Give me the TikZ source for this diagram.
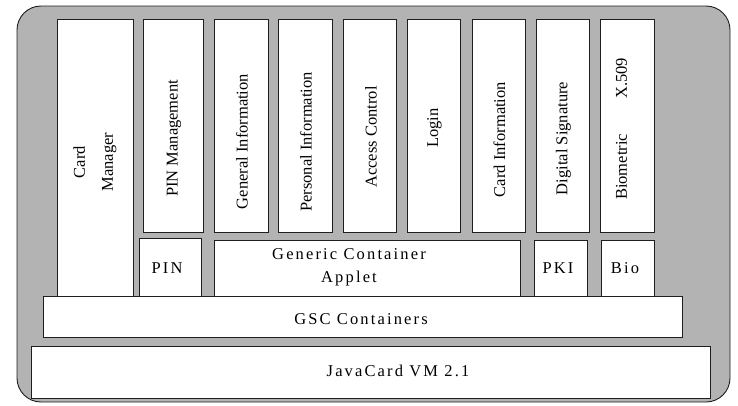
\documentclass[tikz,border=0pt]{standalone}
\usepackage{fontspec}
\setmainfont{Liberation Serif}
\newfontfamily\spacedfont[LetterSpace=13]{Liberation Serif}
\usetikzlibrary{fit}
\definecolor{Panel}{HTML}{B3B3B3}
\definecolor{Edge}{HTML}{1E1E1E}
\definecolor{Plain}{HTML}{FFFFFF}
\tikzset{
    panel/.style={rectangle, rounded corners=24pt, fill=Panel, draw=Edge, line width=0.9pt, inner sep=0pt},
    layer/.style={rectangle, fill=Plain, draw=Edge, line width=0.9pt, inner sep=0pt},
    vtext/.style={rotate=90, inner sep=0pt, align=center, font=\fontsize{16.5}{28}\selectfont},
    htext/.style={inner sep=0pt, align=center, font=\spacedfont\fontsize{16.5}{23}\selectfont},
}

\begin{document}
\begin{tikzpicture}[x=1pt, y=-1pt]
        \useasboundingbox (0,0) rectangle (738,405);
        % Card
        \node[panel, fit={(17,6) (730,402)}] (card) {};

        % Applets
        \node[layer, fit={(57,19) (133,296)}] (cardmgr) {};
        \node[layer, fit={(143,19) (203,232)}] (pinmgmt) {};
        \node[layer, fit={(214,19) (268,232)}] (geninfo) {};
        \node[layer, fit={(278,19) (332,232)}] (persinfo) {};
        \node[layer, fit={(343,19) (396,232)}] (access) {};
        \node[layer, fit={(407,19) (460,232)}] (login) {};
        \node[layer, fit={(472,19) (525,232)}] (cardinfo) {};
        \node[layer, fit={(536,19) (589,232)}] (digsig) {};
        \node[layer, fit={(600,19) (654,232)}] (bioxcert) {};

        \node[vtext] (cardmgr-t) at (95,162) {Card\\Manager};
        \node[vtext] (pinmgmt-t) at (174,138.5) {PIN Management};
        \node[vtext] (geninfo-t) at (242,141.5) {General Information};
        \node[vtext] (persinfo-t) at (306,142) {Personal Information};
        \node[vtext] (access-t) at (371,137) {Access Control};
        \node[vtext] (login-t) at (434.5,128) {Login};
        \node[vtext] (cardinfo-t) at (499.5,139.5) {Card Information};
        \node[vtext] (digsig-t) at (563.5,138.5) {Digital Signature};
        \node[vtext] (bioxcert-t) at (621.5,129) {Biometric\hspace{35pt}X.509};

        % Containers
        \node[layer, fit={(139,238) (201,296)}] (pin) {};
        \node[layer, fit={(214,240) (520,296)}] (generic) {};
        \node[layer, fit={(534,240) (587,296)}] (pki) {};
        \node[layer, fit={(601,240) (654,296)}] (bio) {};
        \node[layer, fit={(43,296) (682,337)}] (gsc) {};
        \node[layer, fit={(31,346) (710,398)}] (jvm) {};

        \node[htext] (pin-t) at (167,268) {PIN};
        \node[htext] (generic-t) at (349,267) {Generic Container\\Applet};
        \node[htext] (pki-t) at (558,268) {PKI};
        \node[htext] (bio-t) at (625,268) {Bio};
        \node[htext] (gsc-t) at (361,319) {GSC Containers};
        \node[htext] (jvm-t) at (398,371) {JavaCard VM 2.1};
    \end{tikzpicture}
\end{document}
